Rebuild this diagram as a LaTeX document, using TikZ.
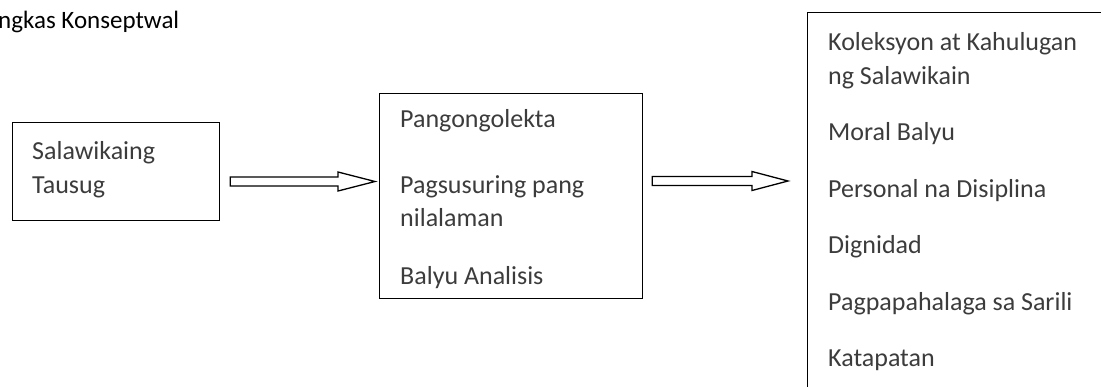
\documentclass[tikz,border=0pt]{standalone}
\usepackage{fontspec}
\setmainfont{Carlito}
\usetikzlibrary{calc}
\definecolor{bodytext}{RGB}{60,60,60}
\tikzset{
  box/.style={draw=black, line width=1.3pt, fill=none},
  txt/.style={anchor=base west, inner sep=0pt, text=bodytext, font=\fontsize{26}{31}\selectfont},
  blockarrow/.style={draw=black, line width=1.3pt, fill=white, line join=miter},
}
\begin{document}
\begin{tikzpicture}[x=1pt,y=-1pt]
\useasboundingbox (0,0) rectangle (1101,386);
% title
\node[anchor=base west, inner sep=0pt, font=\fontsize{25}{30}\selectfont] (title) at (-2,28) {ngkas Konseptwal};
% boxes
\node[box, minimum width=207pt, minimum height=98pt, anchor=north west, inner sep=0pt] (b1) at (12,122) {};
\node[box, minimum width=263pt, minimum height=205pt, anchor=north west, inner sep=0pt] (b2) at (379,93) {};
\begin{scope}
\clip (0,0) rectangle (1101,386);
\node[box, minimum width=320pt, minimum height=400pt, anchor=north west, inner sep=0pt] (b3) at (807,12) {};
\end{scope}
% texts box1
\node[txt] (t11) at (32,159) {Salawikaing};
\node[txt] (t12) at (32,193) {Tausug};
% texts box2
\node[txt] (t21) at (400,127) {Pangongolekta};
\node[txt] (t22) at (400,193) {Pagsusuring pang};
\node[txt] (t23) at (400,226) {nilalaman};
\node[txt] (t24) at (400,284) {Balyu Analisis};
% texts box3
\node[txt] (t31) at (828,50) {Koleksyon at Kahulugan};
\node[txt] (t32) at (828,84) {ng Salawikain};
\node[txt] (t33) at (828,140.5) {Moral Balyu};
\node[txt] (t34) at (828,197) {Personal na Disiplina};
\node[txt] (t35) at (828,253.5) {Dignidad};
\node[txt] (t36) at (828,310) {Pagpapahalaga sa Sarili};
\node[txt] (t37) at (828,366.5) {Katapatan};
% arrow 1
\coordinate (a1s) at ($(b1.east |- 0,181.5)+(10,0)$);
\coordinate (a1e) at ($(b2.west |- 0,181.5)+(-4,0)$);
\draw[blockarrow] ($(a1s)+(0,-4.5)$) -- ($(a1e)+(-37,-4.5)$) -- ($(a1e)+(-37,-9.5)$) -- (a1e)
  -- ($(a1e)+(-37,9.5)$) -- ($(a1e)+(-37,4.5)$) -- ($(a1s)+(0,4.5)$) -- cycle;
% arrow 2
\coordinate (a2s) at ($(b2.east |- 0,181)+(9,0)$);
\coordinate (a2e) at ($(b3.west |- 0,181)+(-19,0)$);
\draw[blockarrow] ($(a2s)+(0,-4.5)$) -- ($(a2e)+(-36,-4.5)$) -- ($(a2e)+(-36,-9.5)$) -- (a2e)
  -- ($(a2e)+(-36,9.5)$) -- ($(a2e)+(-36,4.5)$) -- ($(a2s)+(0,4.5)$) -- cycle;
\end{tikzpicture}
\end{document}
